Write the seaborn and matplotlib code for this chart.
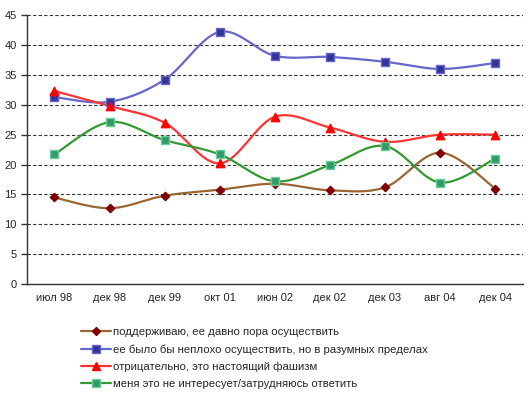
import seaborn as sns
import matplotlib.pyplot as plt
import pandas as pd
import numpy as np

periods = ['июл 98', 'дек 98', 'дек 99', 'окт 01', 'июн 02', 'дек 02', 'дек 03', 'авг 04', 'дек 04']
support = [14.5, 12.7, 14.8, 15.8, 16.8, 15.7, 16.2, 22.0, 16.0]
reasonable = [31.3, 30.5, 34.2, 42.2, 38.2, 38.0, 37.2, 36.0, 37.0]
negative = [32.3, 29.8, 27.0, 20.2, 28.0, 26.2, 23.8, 25.0, 25.0]
no_interest = [21.7, 27.1, 24.1, 21.7, 17.2, 19.9, 23.1, 17.0, 21.0]

labels = ['поддерживаю, ее давно пора осуществить',
          'ее было бы неплохо осуществить, но в разумных пределах',
          'отрицательно, это настоящий фашизм',
          'меня это не интересует/затрудняюсь ответить']

sns.set_style('white')
plt.rcParams['font.family'] = ['Liberation Sans', 'DejaVu Sans']


def smooth(x, y, n=20):
    # excel-like smoothed line (catmull-rom between the points)
    x = np.asarray(x, float)
    y = np.asarray(y, float)
    px = np.concatenate([[x[0]], x, [x[-1]]])
    py = np.concatenate([[y[0]], y, [y[-1]]])
    xs, ys = [], []
    t = np.linspace(0, 1, n)
    for i in range(1, len(px) - 2):
        p0, p1, p2, p3 = py[i - 1], py[i], py[i + 1], py[i + 2]
        q0, q1, q2, q3 = px[i - 1], px[i], px[i + 1], px[i + 2]
        c1y, c2y = p1 + (p2 - p0) / 6, p2 - (p3 - p1) / 6
        c1x, c2x = q1 + (q2 - q0) / 6, q2 - (q3 - q1) / 6
        b = [(1 - t) ** 3, 3 * (1 - t) ** 2 * t, 3 * (1 - t) * t ** 2, t ** 3]
        xs.append(b[0] * q1 + b[1] * c1x + b[2] * c2x + b[3] * q2)
        ys.append(b[0] * p1 + b[1] * c1y + b[2] * c2y + b[3] * p2)
    return np.concatenate(xs), np.concatenate(ys)


fig = plt.figure(figsize=(5.28, 3.98), dpi=100)
ax = fig.add_axes([0.051, 0.286, 0.939, 0.676])

series = [
    (support, '#996633', 'D', '#800000', '#800000', 4.2),
    (reasonable, '#6666CC', 's', '#333399', '#6666CC', 5.2),
    (negative, '#FF3333', '^', '#FF0000', '#FF0000', 6),
    (no_interest, '#339933', 's', '#339966', '#66CC99', 6),
]

xpos = np.arange(len(periods))
handles = []
for (vals, lc, mk, mfc, mec, ms), lab in zip(series, labels):
    sx, sy = smooth(xpos, vals)
    ax.plot(sx, sy, color=lc, lw=1.6, zorder=3)
    df = pd.DataFrame({'x': xpos, 'y': vals})
    sns.scatterplot(data=df, x='x', y='y', marker=mk, s=ms ** 2, color=mfc,
                    edgecolor=mec, linewidth=1, zorder=4, ax=ax)
    handles.append(plt.Line2D([], [], color=lc, lw=1.6, marker=mk, markersize=ms,
                              markerfacecolor=mfc, markeredgecolor=mec))

ax.set_xlim(-0.5, len(periods) - 0.5)
ax.set_ylim(0, 45)
ax.set_yticks(range(0, 46, 5))
ax.set_xticks(xpos)
ax.set_xticklabels(periods)
ax.set_xticks(np.arange(-0.5, len(periods), 1), minor=True)
ax.tick_params(axis='x', which='major', length=0, labelsize=8, pad=6)
ax.tick_params(axis='x', which='minor', length=4, width=1, color='#333333', direction='out')
ax.tick_params(axis='y', length=4, width=1, color='#333333', direction='out', labelsize=8,
               left=True)
ax.set_xlabel('')
ax.set_ylabel('')
for y in range(5, 46, 5):
    ax.axhline(y, color='#333333', lw=0.8, ls=(0, (3, 2)), zorder=1)
for s in ['top', 'right']:
    ax.spines[s].set_visible(False)
for s in ['left', 'bottom']:
    ax.spines[s].set_color('#333333')
    ax.spines[s].set_linewidth(1)

fig.legend(handles, labels, loc='upper left', bbox_to_anchor=(0.145, 0.189),
           frameon=False, fontsize=8.2, handlelength=2.6, handletextpad=0.2,
           labelspacing=0.62, borderaxespad=0)

fig.savefig('out.png', dpi=100)
